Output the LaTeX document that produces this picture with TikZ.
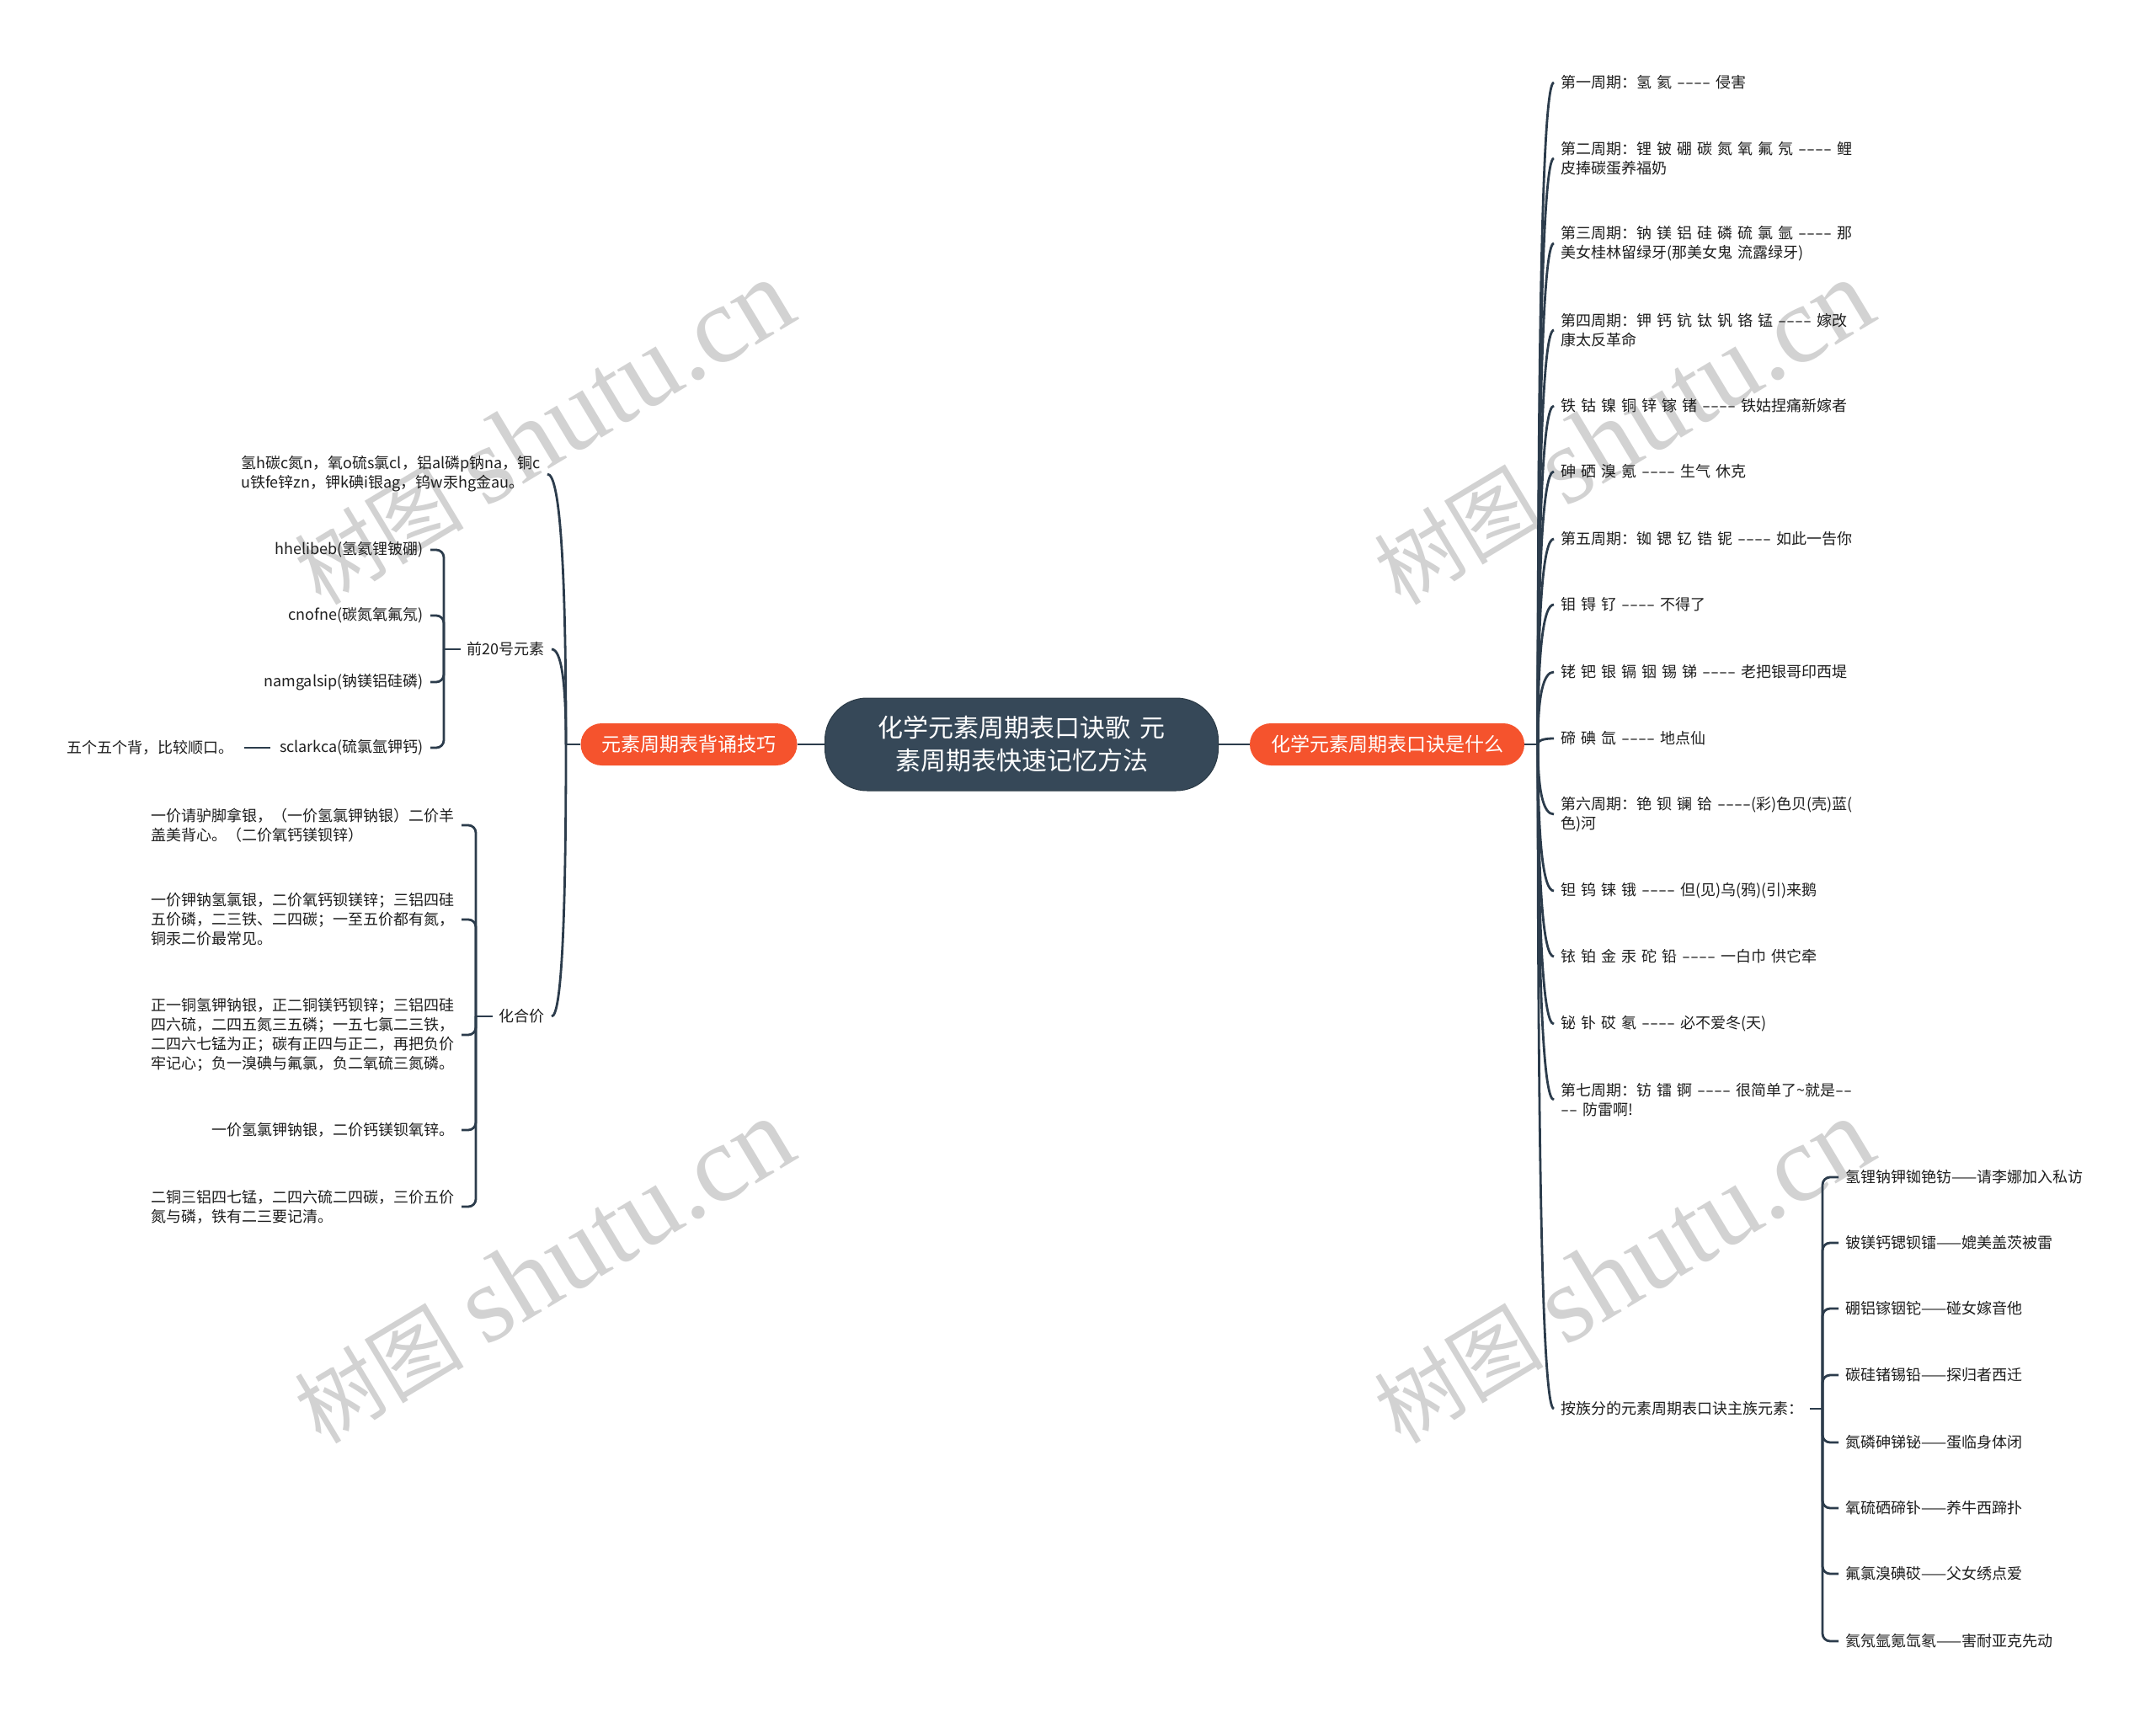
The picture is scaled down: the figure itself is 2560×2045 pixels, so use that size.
\documentclass[tikz,border=0pt]{standalone}
\usepackage{fontspec}
\usepackage{graphicx}
\setmainfont{Noto Sans CJK SC}[WordSpace=1.5]
\newfontfamily\wmserif{Liberation Serif}
\usetikzlibrary{calc}
\newcommand\dsh{\scalebox{1.6}[1]{-}}
\newcommand\dashes{\dsh\dsh\dsh\dsh}
\definecolor{orangex}{RGB}{245,83,45}
\definecolor{slate}{RGB}{54,72,88}
\definecolor{linec}{RGB}{44,60,76}
\definecolor{txt}{RGB}{30,30,30}
\definecolor{wm}{RGB}{210,210,210}
\begin{document}
\begin{tikzpicture}[x=1pt,y=-1pt,
  every node/.style={font=\fontsize{18}{23}\selectfont, text=txt},
  leaf/.style={inner xsep=8pt, inner ysep=3pt, align=left},
  conn/.style={draw=linec, line width=2.8pt},
  elbow/.style={conn, rounded corners=9pt},
  central/.style={fill=slate, draw=slate!80!black, line width=1pt, rounded corners=50pt,
    minimum width=467pt, minimum height=110pt, text=white,
    font=\fontsize{30}{39}\selectfont, align=center},
  mainbr/.style={fill=orangex, rounded corners=25pt, minimum height=50pt, inner xsep=25pt,
    text=white, font=\fontsize{23}{28}\selectfont},
  wmark/.style={text=wm, rotate=31, inner sep=0pt}
]
\fill[white] (0,0) rectangle (2560,2045);
\useasboundingbox (0,0) rectangle (2560,2045);

% watermarks
\foreach \wx/\wy [count=\k] in {645/514, 645/1510, 1927/514, 1927/1510}{
  \node[wmark] (wm\k) at (\wx,\wy) {\fontsize{101}{101}\selectfont 树图\hspace{26pt}{\wmserif\fontsize{130}{130}\selectfont shutu.cn}};
}

% central and main branches
\node[central] (c) at (1213,884) {化学元素周期表口诀歌 元\\素周期表快速记忆方法};
\node[mainbr] (L) at (818,884) {元素周期表背诵技巧};
\node[mainbr] (R) at (1647,884) {化学元素周期表口诀是什么};
\draw[conn] (L.east) -- (c.west);
\draw[conn] (c.east) -- (R.west);

% right side
\coordinate (jr) at (1826,884);
\draw[conn] (R.east) -- (jr);
\node[leaf, anchor=west] (r1) at (1845,98) {第一周期：氢 氦 \dashes{} 侵害};
\node[leaf, anchor=west] (r2) at (1845,188) {第二周期：锂 铍 硼 碳 氮 氧 氟 氖 \dashes{} 鲤\\皮捧碳蛋养福奶};
\node[leaf, anchor=west] (r3) at (1845,289) {第三周期：钠 镁 铝 硅 磷 硫 氯 氩 \dashes{} 那\\美女桂林留绿牙(那美女鬼 流露绿牙)};
\node[leaf, anchor=west] (r4) at (1845,392) {第四周期：钾 钙 钪 钛 钒 铬 锰 \dashes{} 嫁改\\康太反革命};
\node[leaf, anchor=west] (r5) at (1845,482) {铁 钴 镍 铜 锌 镓 锗 \dashes{} 铁姑捏痛新嫁者};
\node[leaf, anchor=west] (r6) at (1845,560) {砷 硒 溴 氪 \dashes{} 生气 休克};
\node[leaf, anchor=west] (r7) at (1845,640) {第五周期：铷 锶 钇 锆 铌 \dashes{} 如此一告你};
\node[leaf, anchor=west] (r8) at (1845,718) {钼 锝 钌 \dashes{} 不得了};
\node[leaf, anchor=west] (r9) at (1845,798) {铑 钯 银 镉 铟 锡 锑 \dashes{} 老把银哥印西堤};
\node[leaf, anchor=west] (r10) at (1845,877) {碲 碘 氙 \dashes{} 地点仙};
\node[leaf, anchor=west] (r11) at (1845,967) {第六周期：铯 钡 镧 铪 \dashes(彩)色贝(壳)蓝(\\色)河};
\node[leaf, anchor=west] (r12) at (1845,1058) {钽 钨 铼 锇 \dashes{} 但(见)乌(鸦)(引)来鹅};
\node[leaf, anchor=west] (r13) at (1845,1136) {铱 铂 金 汞 砣 铅 \dashes{} 一白巾 供它牵};
\node[leaf, anchor=west] (r14) at (1845,1216) {铋 钋 砹 氡 \dashes{} 必不爱冬(天)};
\node[leaf, anchor=west] (r15) at (1845,1306) {第七周期：钫 镭 锕 \dashes{} 很简单了\textasciitilde 就是\dsh\dsh\\\dsh\dsh{} 防雷啊!};
\node[leaf, anchor=west] (r16) at (1845,1673) {按族分的元素周期表口诀主族元素：};
\foreach \i in {1,...,16}{
  \draw[conn] (jr) .. controls ($(jr)!.667!(jr|-r\i.west)$) and ($(r\i.west)!.667!(jr|-r\i.west)$) .. (r\i.west);
}

% group children
\coordinate (jg) at (2164,1673);
\draw[conn] (r16.east) -- (jg);
\node[leaf, anchor=west] (g1) at (2183,1398) {氢锂钠钾铷铯钫——请李娜加入私访};
\node[leaf, anchor=west] (g2) at (2183,1476) {铍镁钙锶钡镭——媲美盖茨被雷};
\node[leaf, anchor=west] (g3) at (2183,1554) {硼铝镓铟铊——碰女嫁音他};
\node[leaf, anchor=west] (g4) at (2183,1633) {碳硅锗锡铅——探归者西迁};
\node[leaf, anchor=west] (g5) at (2183,1713) {氮磷砷锑铋——蛋临身体闭};
\node[leaf, anchor=west] (g6) at (2183,1791) {氧硫硒碲钋——养牛西蹄扑};
\node[leaf, anchor=west] (g7) at (2183,1869) {氟氯溴碘砹——父女绣点爱};
\node[leaf, anchor=west] (g8) at (2183,1949) {氦氖氩氪氙氡——害耐亚克先动};
\foreach \i in {1,...,8}{
  \draw[elbow] (jg) |- (g\i.west);
}

% left side
\coordinate (jl) at (672,884);
\draw[conn] (L.west) -- (jl);
\node[leaf, anchor=east] (l1) at (650,563) {氢h碳c氮n，氧o硫s氯cl，铝al磷p钠na，铜c\\u铁fe锌zn，钾k碘i银ag，钨w汞hg金au。};
\node[leaf, anchor=east] (p20) at (655,771) {前20号元素};
\node[leaf, anchor=east] (hj) at (655,1207) {化合价};
\foreach \n in {l1,p20,hj}{
  \draw[conn] (jl) .. controls ($(jl)!.667!(jl|-\n.east)$) and ($(\n.east)!.667!(jl|-\n.east)$) .. (\n.east);
}

% first 20 elements
\coordinate (jp) at (527,771);
\draw[conn] (p20.west) -- (jp);
\node[leaf, anchor=east] (e1) at (511,653) {hhelibeb(氢氦锂铍硼)};
\node[leaf, anchor=east] (e2) at (511,731) {cnofne(碳氮氧氟氖)};
\node[leaf, anchor=east] (e3) at (511,810) {namgalsip(钠镁铝硅磷)};
\node[leaf, anchor=east] (e4) at (511,888) {sclarkca(硫氯氩钾钙)};
\foreach \i in {1,...,4}{
  \draw[elbow] (jp) |- (e\i.east);
}
\node[leaf, anchor=east] (e5) at (286,888) {五个五个背，比较顺口。};
\draw[conn, shorten <=4pt, shorten >=3pt] (e5.east) -- (e4.west);

% valence
\coordinate (jh) at (565,1207);
\draw[conn] (hj.west) -- (jh);
\node[leaf, anchor=east] (v1) at (548,980) {一价请驴脚拿银，（一价氢氯钾钠银）二价羊\\盖美背心。（二价氧钙镁钡锌）};
\node[leaf, anchor=east] (v2) at (548,1092) {一价钾钠氢氯银，二价氧钙钡镁锌；三铝四硅\\五价磷，二三铁、二四碳；一至五价都有氮，\\铜汞二价最常见。};
\node[leaf, anchor=east] (v3) at (548,1229) {正一铜氢钾钠银，正二铜镁钙钡锌；三铝四硅\\四六硫，二四五氮三五磷；一五七氯二三铁，\\二四六七锰为正；碳有正四与正二，再把负价\\牢记心；负一溴碘与氟氯，负二氧硫三氮磷。};
\node[leaf, anchor=east] (v4) at (548,1342) {一价氢氯钾钠银，二价钙镁钡氧锌。};
\node[leaf, anchor=east] (v5) at (548,1433) {二铜三铝四七锰，二四六硫二四碳，三价五价\\氮与磷，铁有二三要记清。};
\foreach \i in {1,...,5}{
  \draw[elbow] (jh) |- (v\i.east);
}
\end{tikzpicture}
\end{document}
